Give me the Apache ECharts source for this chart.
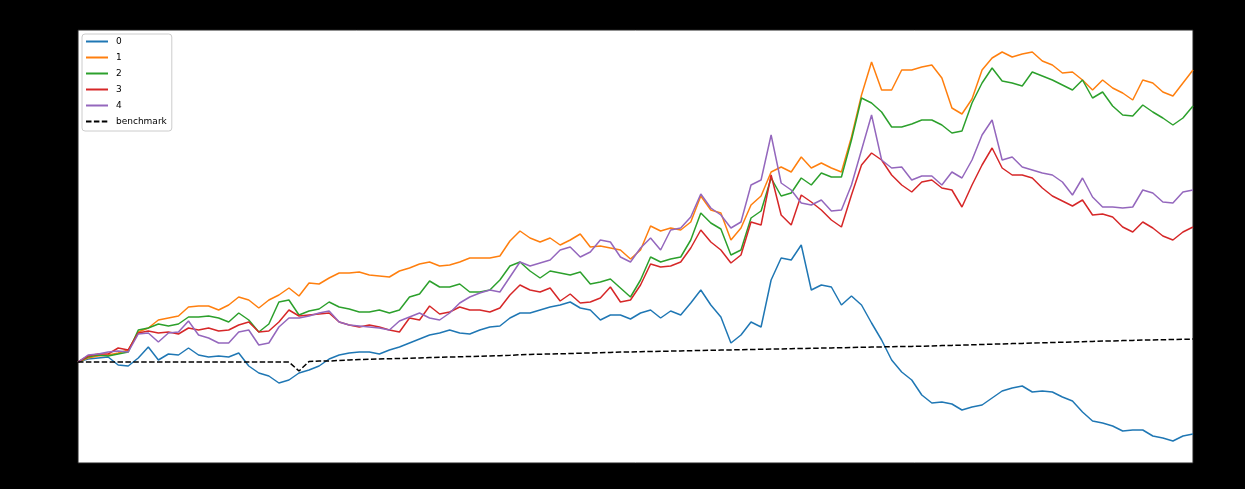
<!DOCTYPE html>
<html>
<head>
<meta charset="utf-8">
<script src="https://cdn.jsdelivr.net/npm/echarts@6/dist/echarts.min.js"></script>
<style>
html,body{margin:0;padding:0;background:#000;}
#chart{width:1245px;height:489px;}
</style>
</head>
<body>
<div id="chart"></div>
<script>
// cumulative return (%) per period
const s0 = [0,3,4,5,-3,-4,4,15,2,8,7,14,7,5,6,5,9,-4,-11,-14,-21,-18,-11,-8,-4,3,7,9,10,10,
  8,12,15,19,23,27,29,32,29,28,32,35,36,44,49,49,52,55,57,60,54,52,42,47,47,43,49,52,
  44,51,47,59,72,57,45,19,27,40,35,82,104,102,117,72,77,75,57,66,57,39,22,2,-10,-18,-33,
  -41,-40,-42,-48,-45,-43,-36,-29,-26,-24,-30,-29,-30,-35,-39,-50,-59,-61,-64,-69,-68,-68,-74,-76,-79,-74,-72];
const s1 = [0,4,6,7,9,12,30,34,42,44,46,55,56,56,52,57,65,62,54,62,67,74,66,79,78,84,89,89,90,87,
  86,85,91,94,98,100,96,97,100,104,104,104,106,121,131,124,120,124,117,122,128,115,116,114,112,103,112,136,
  131,134,132,140,166,152,149,122,134,157,166,190,195,190,205,194,199,194,190,225,267,300,272,272,292,292,295,
  297,284,254,248,263,292,304,310,305,308,310,301,297,289,290,282,272,282,274,269,262,282,279,270,266,279,292];
const s2 = [0,5,7,6,8,10,32,34,38,36,38,45,45,46,44,40,49,42,30,38,60,62,47,51,53,60,55,53,50,50,
  52,49,52,65,68,81,75,75,78,70,70,72,82,96,100,91,84,91,89,87,90,78,80,83,74,65,82,105,
  100,103,105,122,149,139,133,107,112,144,151,184,166,169,184,177,189,185,185,222,264,259,250,235,235,238,242,
  242,237,229,231,259,279,294,281,279,276,290,286,282,277,272,282,264,270,256,247,246,257,250,244,237,244,256];
const s3 = [0,6,8,8,14,12,29,31,29,30,28,34,32,34,31,32,37,40,30,31,40,52,46,47,48,49,40,37,35,37,
  35,32,30,44,42,56,48,50,55,52,52,50,54,67,77,72,70,74,61,68,59,60,64,75,60,62,77,98,
  95,96,100,114,132,120,112,99,107,140,137,187,147,137,167,160,152,142,135,167,197,209,202,187,177,170,180,
  182,174,172,155,177,197,214,194,187,187,184,174,166,161,156,162,147,148,145,135,130,140,134,126,122,130,135];
const s4 = [0,7,8,10,11,10,28,29,20,29,30,41,27,24,19,19,30,32,17,19,35,44,44,46,49,51,40,37,36,35,
  34,32,41,45,49,44,42,49,59,65,69,72,70,85,100,96,99,102,112,115,105,110,122,120,105,100,114,124,
  112,132,134,145,168,154,147,134,140,177,182,227,179,172,159,157,162,151,152,177,212,247,202,194,195,182,186,
  186,177,190,184,202,227,242,202,205,195,192,189,187,180,167,184,165,155,155,154,155,172,169,160,159,170,172];
const benchmark = [0,0,0,0,0,0,0,0,0,0,0,0,0,0,0,0,0,0,0,0,0,0,-9,
  0.5,1,1,1.5,2,2.5,2.7,
  3,3.3,3.5,3.8,4,4.4,4.7,5,5.2,5.5,
  5.8,6,6.3,6.7,7.2,7.5,7.8,8,8.2,8.5,
  8.8,9,9.3,9.6,9.9,10.1,10.3,10.5,10.7,10.9,
  11.1,11.3,11.5,11.7,11.9,12.1,12.3,12.5,12.7,12.9,
  13.1,13.3,13.5,13.7,13.9,14.1,14.3,14.5,14.7,14.9,
  15.1,15.3,15.5,15.6,15.8,16.1,16.4,16.6,16.9,17.2,
  17.5,17.8,18.1,18.4,18.6,18.9,19.2,19.5,19.8,20,
  20.3,20.6,20.9,21.1,21.4,21.6,21.9,22.1,22.3,22.5,
  22.7,22.9];
const seriesNames = ['0','1','2','3','4','benchmark'];
const seriesColors = ['#1f77b4','#ff7f0e','#2ca02c','#d62728','#9467bd','#000000'];
const periods = s0.map((_, i) => String(i));

const chart = echarts.init(document.getElementById('chart'), null, {renderer: 'canvas'});
const allData = [s0, s1, s2, s3, s4, benchmark];
const series = allData.map((d, k) => ({
  name: seriesNames[k],
  type: 'line',
  data: d,
  symbol: 'none',
  showSymbol: false,
  smooth: false,
  lineStyle: {
    width: 1.5,
    color: seriesColors[k],
    type: k === 5 ? [5.5, 2.4] : 'solid'
  },
  itemStyle: {color: seriesColors[k]},
  animation: false
}));

chart.setOption({
  backgroundColor: '#000',
  animation: false,
  grid: {
    left: 78, right: 52, top: 30, bottom: 26,
    show: true, backgroundColor: '#fff', borderColor: '#222', borderWidth: 1
  },
  xAxis: {
    type: 'category', data: periods, boundaryGap: false,
    axisLine: {show: false}, axisTick: {show: false}, axisLabel: {show: false}, splitLine: {show: false}
  },
  yAxis: {
    type: 'value', min: -101, max: 332,
    axisLine: {show: false}, axisTick: {show: false}, axisLabel: {show: false}, splitLine: {show: false}
  },
  legend: {
    show: true,
    orient: 'vertical',
    left: 82, top: 34,
    padding: [3, 5, 5, 3],
    itemWidth: 22, itemHeight: 10, itemGap: 7,
    itemStyle: {opacity: 0},
    backgroundColor: 'rgba(255,255,255,0.8)',
    borderColor: '#cccccc', borderWidth: 1, borderRadius: 3,
    textStyle: {fontFamily: 'DejaVu Sans', fontSize: 9, color: '#000', padding: [0, 0, 0, 3]},
    data: seriesNames.map(n => ({name: n}))
  },
  series: series
});
</script>
</body>
</html>
